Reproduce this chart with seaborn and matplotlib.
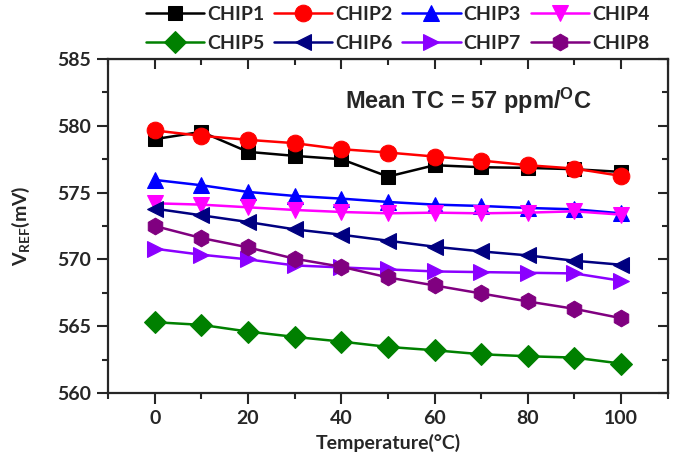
import matplotlib
matplotlib.use('Agg')
import matplotlib.pyplot as plt
import seaborn as sns
from matplotlib.ticker import MultipleLocator

# data
temperature = [0, 10, 20, 30, 40, 50, 60, 70, 80, 90, 100]
chip1 = [579.0, 579.55, 578.05, 577.75, 577.5, 576.2, 577.05, 576.9, 576.85, 576.75, 576.55]
chip2 = [579.65, 579.25, 578.95, 578.7, 578.25, 578.0, 577.7, 577.4, 577.05, 576.8, 576.25]
chip3 = [575.95, 575.55, 575.05, 574.75, 574.55, 574.3, 574.1, 574.0, 573.85, 573.75, 573.45]
chip4 = [574.2, 574.1, 573.9, 573.7, 573.55, 573.45, 573.5, 573.45, 573.5, 573.6, 573.35]
chip5 = [565.3, 565.1, 564.6, 564.2, 563.85, 563.45, 563.2, 562.9, 562.75, 562.65, 562.2]
chip6 = [573.8, 573.3, 572.8, 572.25, 571.85, 571.4, 570.95, 570.6, 570.3, 569.9, 569.6]
chip7 = [570.8, 570.35, 570.0, 569.55, 569.4, 569.25, 569.1, 569.05, 569.0, 568.95, 568.4]
chip8 = [572.5, 571.6, 570.9, 570.05, 569.45, 568.65, 568.05, 567.45, 566.85, 566.3, 565.6]

series = [chip1, chip2, chip3, chip4, chip5, chip6, chip7, chip8]
labels = ['CHIP1', 'CHIP2', 'CHIP3', 'CHIP4', 'CHIP5', 'CHIP6', 'CHIP7', 'CHIP8']
colors = ['black', 'red', 'blue', 'magenta', 'green', 'navy', '#8B00FF', 'purple']
markers = ['s', 'o', '^', 'v', 'D', '<', '>', 'h']
msizes = [10, 12, 12, 12, 11, 12, 12, 12]

sns.set_style('ticks')
plt.rcParams['font.family'] = ['Lato', 'DejaVu Sans']
plt.rcParams['font.weight'] = 'bold'
plt.rcParams['mathtext.default'] = 'regular'

fig = plt.figure(figsize=(6.8, 4.61), dpi=100)
ax = fig.add_axes([0.159, 0.1475, 0.823, 0.7245])

for vals, lab, col, mk, ms in zip(series, labels, colors, markers, msizes):
    sns.lineplot(x=temperature, y=vals, ax=ax, color=col, marker=mk, markersize=ms,
                 markeredgecolor=col, linewidth=1.8, label=lab)

ax.set_xlim(-10, 110)
ax.set_ylim(560, 585)
ax.xaxis.set_major_locator(MultipleLocator(20))
ax.xaxis.set_minor_locator(MultipleLocator(10))
ax.yaxis.set_major_locator(MultipleLocator(5))
ax.yaxis.set_minor_locator(MultipleLocator(2.5))
ax.tick_params(which='major', direction='out', length=8, width=1.5, labelsize=14, pad=4)
ax.tick_params(which='minor', direction='out', length=4.5, width=1.5)
for sp in ax.spines.values():
    sp.set_linewidth(1.6)
    sp.set_visible(True)

# mirrored inward ticks on top and right
top = ax.secondary_xaxis('top')
top.xaxis.set_major_locator(MultipleLocator(20))
top.xaxis.set_minor_locator(MultipleLocator(10))
top.tick_params(which='major', direction='in', length=7, width=1.5, labeltop=False)
top.tick_params(which='minor', direction='in', length=4, width=1.5)
right = ax.secondary_yaxis('right')
right.yaxis.set_major_locator(MultipleLocator(5))
right.yaxis.set_minor_locator(MultipleLocator(2.5))
right.tick_params(which='major', direction='in', length=7, width=1.5, labelright=False)
right.tick_params(which='minor', direction='in', length=4, width=1.5)

ax.set_xlabel('Temperature(°C)', fontsize=14, fontweight='bold', labelpad=5)
ax.set_ylabel(r'V$_{\mathregular{REF}}$(mV)', fontsize=14, fontweight='bold', labelpad=18)

ax.text(345 / 680, 1 - 101 / 461, r'Mean TC = 57 ppm/$^{\mathregular{O}}$C',
        transform=fig.transFigure, fontsize=17, fontweight='bold',
        family=['Liberation Sans', 'DejaVu Sans'], va='center', ha='left')

# legend filled row by row: 4 columns, 2 rows
handles, labs = ax.get_legend_handles_labels()
ax.get_legend().remove()
order = [0, 4, 1, 5, 2, 6, 3, 7]
fig.legend([handles[i] for i in order], [labs[i] for i in order], ncol=4,
           loc='upper left', bbox_to_anchor=(0.2, 1.008),
           frameon=False, fontsize=14, handlelength=3.0, handletextpad=0.15,
           columnspacing=0.5, labelspacing=0.6, borderpad=0.0)

fig.savefig('out.png', dpi=100)
